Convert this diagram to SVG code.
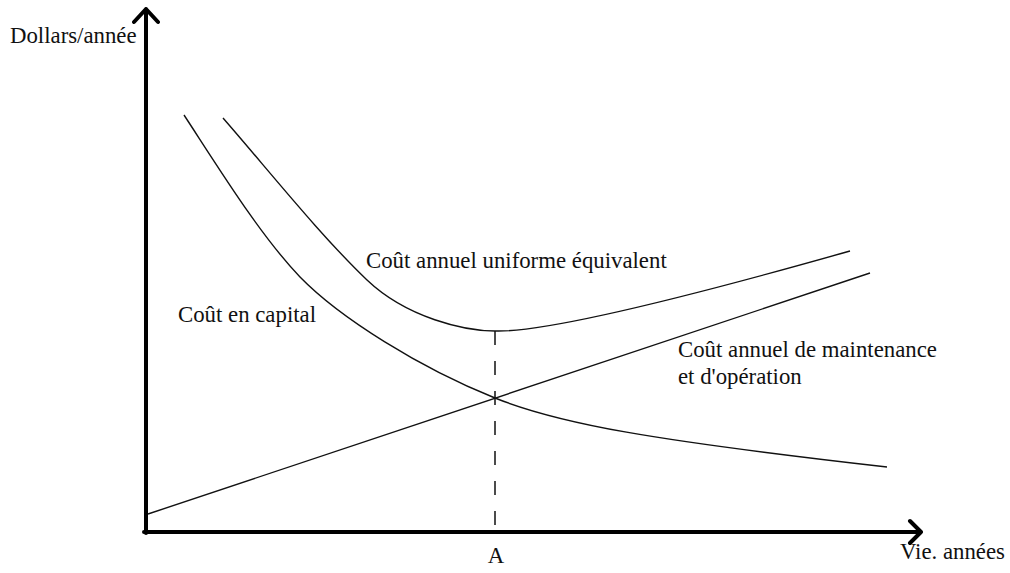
<svg xmlns="http://www.w3.org/2000/svg" width="1010" height="573" viewBox="0 0 1010 573">
  <style>
    .axis { fill: none; stroke: #000; stroke-width: 4; stroke-linecap: round; stroke-linejoin: round; }
    .curve { fill: none; stroke: #111; stroke-width: 1.4; }
    .guide { fill: none; stroke: #111; stroke-width: 1.5; stroke-dasharray: 14 16; }
    .label { font-family: "Liberation Serif", "Times New Roman", serif; font-size: 22.8px; fill: #111; }
  </style>
  <rect width="1010" height="573" fill="#fff"/>

  <!-- axes -->
  <g id="axes">
    <path class="axis" d="M146,533 V9 M134,22 L146,9 L158,22"/>
    <path class="axis" d="M144,532 H921 M910,521 L921,532 L910,543"/>
    <text class="label" x="10" y="43">Dollars/année</text>
    <text class="label" x="900" y="559">Vie. années</text>
    <text class="label" x="496" y="563" text-anchor="middle">A</text>
  </g>

  <!-- cost curves -->
  <g id="connectors">
    <path id="capital-curve" class="curve" d="M184,115 C220,170 260,235 300,277 C340,318 420,368 495,398 C560,424 650,440 887,467"/>
    <path id="total-curve" class="curve" d="M223,118 C270,172 320,235 367,280 C407,318 465,331 495,331 C550,333 730,285 850,251"/>
    <path id="maintenance-line" class="curve" d="M148,514 L870,273"/>
    <path id="optimum-guide" class="guide" d="M495,331 V532"/>
  </g>

  <g id="label-capital">
    <text class="label" x="178" y="322">Coût en capital</text>
  </g>
  <g id="label-total">
    <text class="label" x="366" y="268">Coût annuel uniforme équivalent</text>
  </g>
  <g id="label-maintenance">
    <text class="label" x="678" y="357">Coût annuel de maintenance</text>
    <text class="label" x="678" y="384">et d'opération</text>
  </g>
</svg>
